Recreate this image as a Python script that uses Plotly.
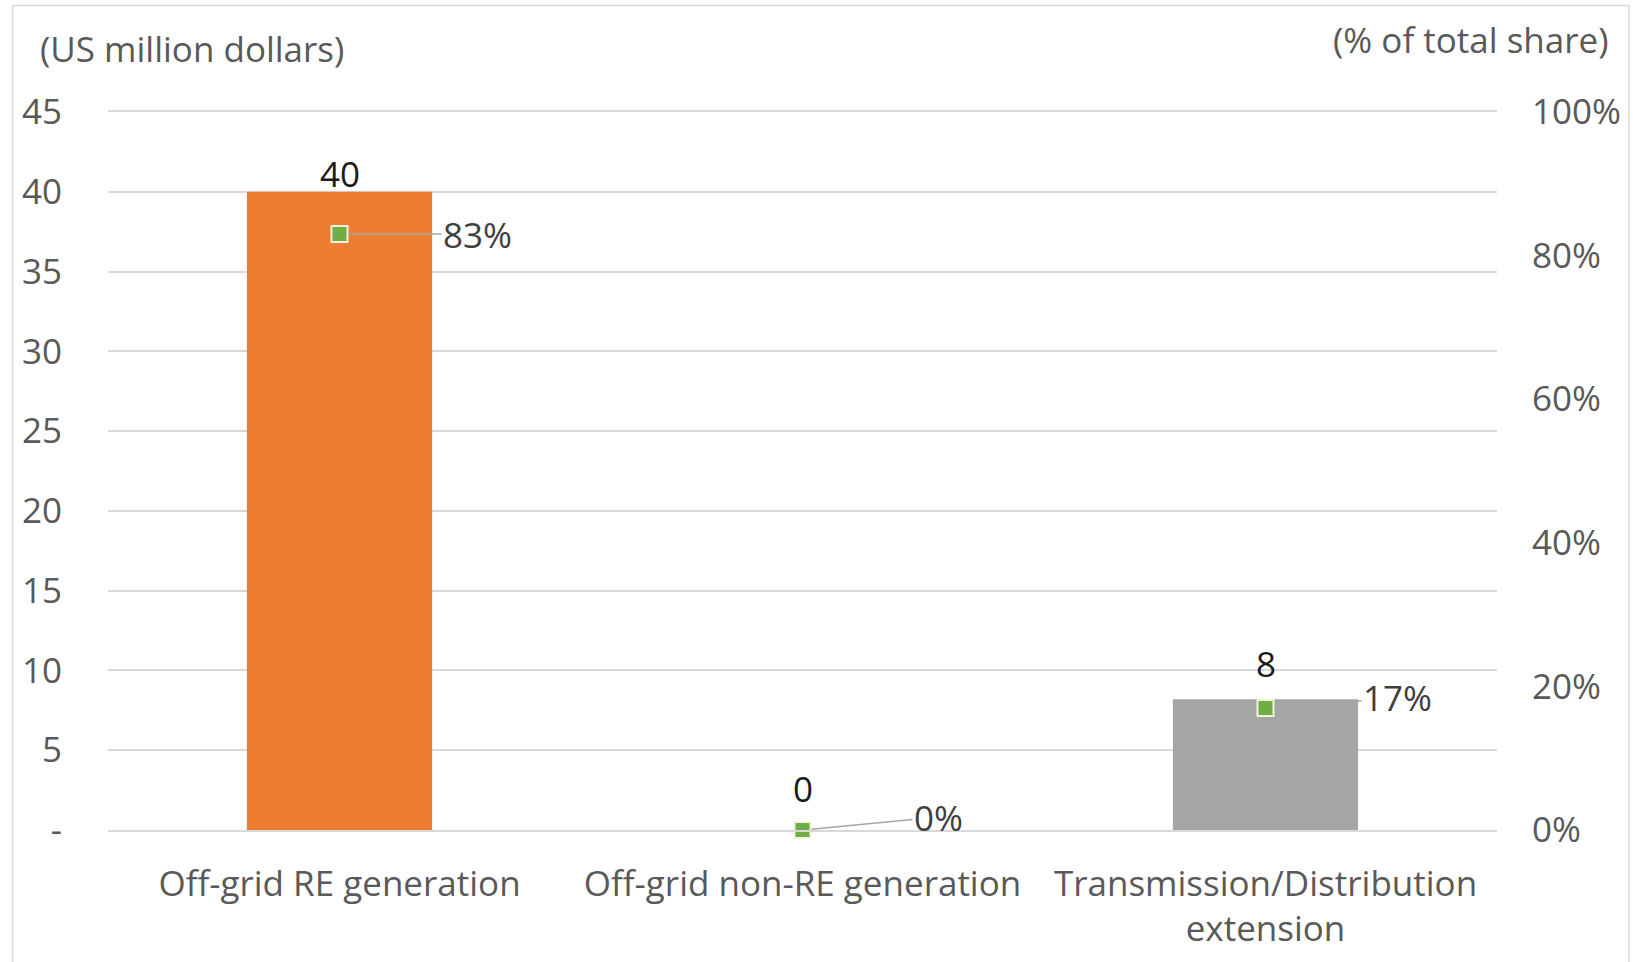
import plotly.graph_objects as go

categories = ["Off-grid RE generation", "Off-grid non-RE generation", "Transmission/Distribution<br>extension"]
investment = [40.0, 0.0, 8.2]
investment_labels = ["40", "0", "8"]
share = [0.83, 0.0, 0.17]
share_labels = ["83%", "0%", "17%"]
bar_colors = ["#ED7D31", "#FFC000", "#A5A5A5"]
y_ticks = [0, 5, 10, 15, 20, 25, 30, 35, 40, 45]
y_ticktext = ["-", "5", "10", "15", "20", "25", "30", "35", "40", "45"]
y2_ticks = [0, 0.2, 0.4, 0.6, 0.8, 1.0]

FONT = "Open Sans, Lato, sans-serif"
FS = 35
W, H = 1633, 962
L, T, R, B = 108, 112, 1633 - 1497, 962 - 830
PW, PH = W - L - R, H - T - B
GRID = "#D9D9D9"

def px_x(p):
    return (p - L) / PW

def px_y(p):
    return (H - B - p) / PH

fig = go.Figure()
fig.add_trace(go.Bar(
    x=categories, y=investment, marker=dict(color=bar_colors, line=dict(width=0)),
    width=0.4, showlegend=False, hoverinfo="skip"))
fig.add_trace(go.Scatter(
    x=categories, y=share, yaxis="y2", mode="markers", cliponaxis=False,
    marker=dict(symbol="square", size=16, color="#70AD47", line=dict(color="#F2F2D9", width=2)),
    showlegend=False, hoverinfo="skip"))

# bar value labels
label_shift = [18, 42, 36]
for c, v, t, s in zip(categories, investment, investment_labels, label_shift):
    fig.add_annotation(x=c, y=v, text=t, showarrow=False, yshift=s, yanchor="middle",
                       font=dict(family=FONT, size=FS, color="#1a1a1a"))

# share labels with leader lines
offsets = [(138, 0), (136, -13), (132, -10)]
for c, v, t, (ax, ay) in zip(categories, share, share_labels, offsets):
    fig.add_annotation(x=c, y=v, yref="y2", text=t, showarrow=True, arrowhead=0,
                       arrowwidth=1.5, arrowcolor="#A6A6A6", ax=ax, ay=ay, standoff=9,
                       font=dict(family=FONT, size=FS, color="#404040"))

fig.add_annotation(xref="paper", yref="paper", x=px_x(38), y=px_y(48), xanchor="left", yanchor="middle",
                   text="(US million dollars)", showarrow=False,
                   font=dict(family=FONT, size=FS, color="#595959"))
fig.add_annotation(xref="paper", yref="paper", x=px_x(1611), y=px_y(40), xanchor="right", yanchor="middle",
                   text="(% of total share)", showarrow=False,
                   font=dict(family=FONT, size=FS, color="#595959"))

fig.add_shape(type="rect", xref="paper", yref="paper", x0=px_x(12.5), x1=px_x(1629),
              y0=px_y(980), y1=px_y(5.5), line=dict(color=GRID, width=1.5), layer="below")

fig.update_layout(
    width=W, height=H, margin=dict(l=L, r=R, t=T, b=B, pad=0),
    paper_bgcolor="white", plot_bgcolor="white", bargap=0.6,
    font=dict(family=FONT, size=FS, color="#595959"),
    xaxis=dict(range=[-0.5, 2.5], showgrid=False, showline=True, mirror=True, linecolor=GRID,
               linewidth=1.5, zeroline=False,
               ticks="", ticklabelstandoff=22, tickfont=dict(size=FS, color="#595959")),
    yaxis=dict(range=[0, 45], tickvals=y_ticks, ticktext=y_ticktext, showgrid=True,
               gridcolor=GRID, gridwidth=1.5, zeroline=False, showline=False,
               ticks="", ticklabelstandoff=45, tickfont=dict(size=FS, color="#595959")),
    yaxis2=dict(range=[0, 1], overlaying="y", side="right", tickvals=y2_ticks, tickformat=".0%",
                showgrid=False, zeroline=False, showline=False, ticks="", ticklabelstandoff=34,
                tickfont=dict(size=FS, color="#595959")),
)

fig.write_html("out.html", config={"displayModeBar": False},
               post_script="document.body.style.margin='0';")
